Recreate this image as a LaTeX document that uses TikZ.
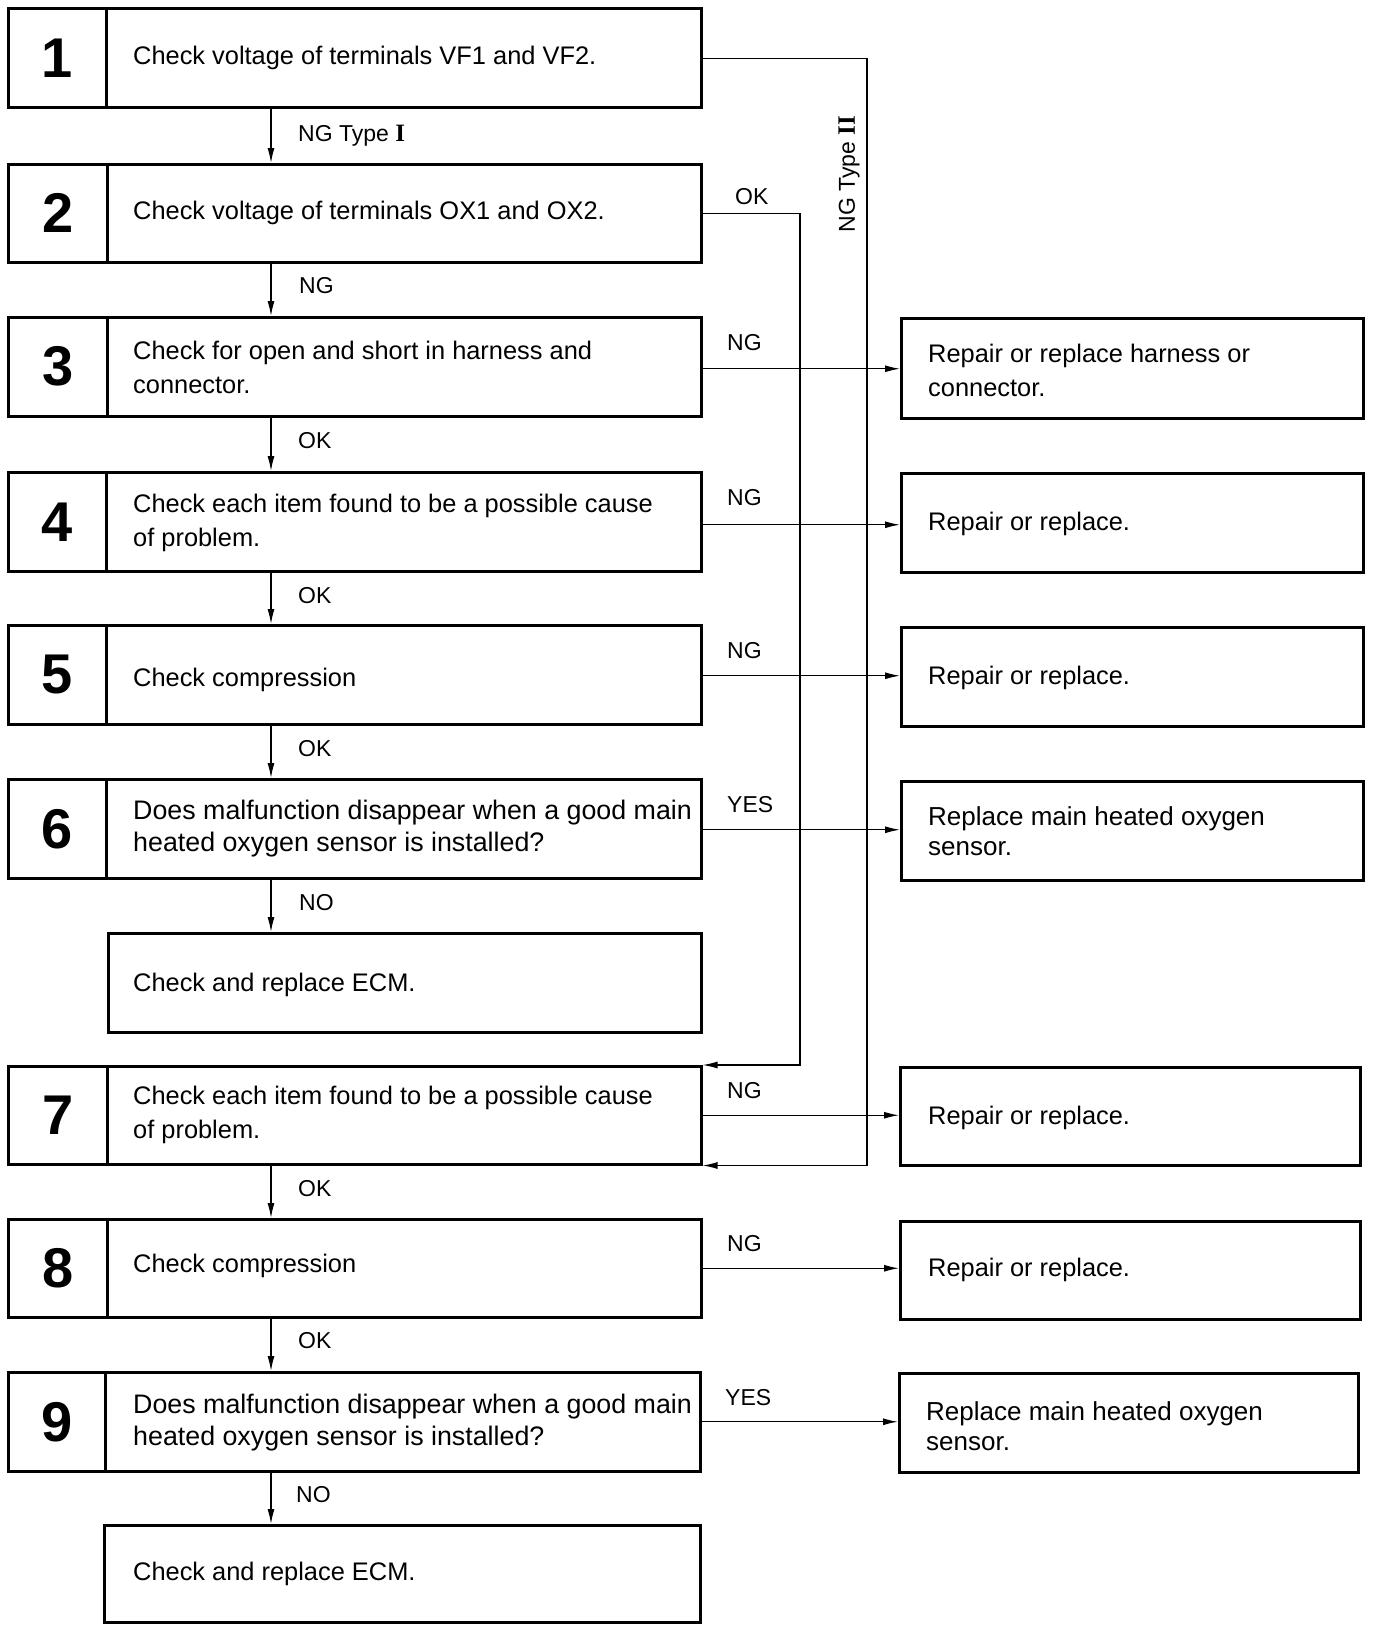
\documentclass[tikz,border=0pt]{standalone}
\usepackage{fontspec}
\setmainfont{Liberation Sans}
\newfontfamily\romanfam{Liberation Serif}
\usetikzlibrary{arrows.meta}
\begin{document}
\begin{tikzpicture}[x=1pt,y=-1pt,
  frame/.style={draw, line width=2.5pt, inner sep=0pt, anchor=north west},
  numcell/.style={frame, font=\fontsize{56}{56}\selectfont\bfseries},
  body/.style={anchor=west, align=left, inner sep=0pt, font=\fontsize{25.4}{34}\selectfont},
  bigbody/.style={body, font=\fontsize{26.8}{32}\selectfont},
  rbody/.style={body, font=\fontsize{26}{30}\selectfont},
  lbl/.style={anchor=base west, inner sep=0pt, font=\fontsize{23}{23}\selectfont},
  conn/.style={line width=1.3pt},
  arr/.style={conn, -{Latex[length=15pt,width=7pt]}},
]
\useasboundingbox[fill=white] (0,0) rectangle (1376,1628);

% ---------- left column ----------
\node[numcell, minimum width=98, minimum height=99] (n1) at (7,7) {1};
\node[frame, minimum width=595, minimum height=99] (b1) at (105,7) {};
\node[body] (t1) at ([xshift=28pt]b1.west) {Check voltage of terminals VF1 and VF2.};

\node[numcell, minimum width=99, minimum height=98] (n2) at (7,163) {2};
\node[frame, minimum width=594, minimum height=98] (b2) at (106,163) {};
\node[body] (t2) at ([xshift=27pt]b2.west) {Check voltage of terminals OX1 and OX2.};

\node[numcell, minimum width=99, minimum height=99] (n3) at (7,316) {3};
\node[frame, minimum width=594, minimum height=99] (b3) at (106,316) {};
\node[body] (t3) at ([xshift=27pt,yshift=-1pt]b3.west) {Check for open and short in harness and\\connector.};

\node[numcell, minimum width=98, minimum height=99] (n4) at (7,471) {4};
\node[frame, minimum width=595, minimum height=99] (b4) at (105,471) {};
\node[body] (t4) at ([xshift=28pt,yshift=-1pt]b4.west) {Check each item found to be a possible cause\\of problem.};

\node[numcell, minimum width=98, minimum height=99] (n5) at (7,624) {5};
\node[frame, minimum width=595, minimum height=99] (b5) at (105,624) {};
\node[body] (t5) at ([xshift=28pt,yshift=-5pt]b5.west) {Check compression};

\node[numcell, minimum width=98, minimum height=99] (n6) at (7,778) {6};
\node[frame, minimum width=595, minimum height=99] (b6) at (105,778) {};
\node[bigbody] (t6) at ([xshift=28pt]b6.west) {Does malfunction disappear when a good main\\heated oxygen sensor is installed?};

\node[frame, minimum width=593, minimum height=99] (e1) at (107,932) {};
\node[body] (te1) at ([xshift=26pt,yshift=-2pt]e1.west) {Check and replace ECM.};

\node[numcell, minimum width=99, minimum height=98] (n7) at (7,1065) {7};
\node[frame, minimum width=594, minimum height=98] (b7) at (106,1065) {};
\node[body] (t7) at ([xshift=27pt]b7.west) {Check each item found to be a possible cause\\of problem.};

\node[numcell, minimum width=99, minimum height=98] (n8) at (7,1218) {8};
\node[frame, minimum width=594, minimum height=98] (b8) at (106,1218) {};
\node[body] (t8) at ([xshift=27pt,yshift=2pt]b8.west) {Check compression};

\node[numcell, minimum width=97, minimum height=99] (n9) at (7,1371) {9};
\node[frame, minimum width=595, minimum height=99] (b9) at (104,1371) {};
\node[bigbody] (t9) at ([xshift=29pt,yshift=-1pt]b9.west) {Does malfunction disappear when a good main\\heated oxygen sensor is installed?};

\node[frame, minimum width=596, minimum height=97] (e2) at (103,1524) {};
\node[body] (te2) at ([xshift=30pt]e2.west) {Check and replace ECM.};

% ---------- right column ----------
\node[frame, minimum width=462, minimum height=100] (r3) at (900,317) {};
\node[body] (tr3) at ([xshift=28pt,yshift=-2pt]r3.west) {Repair or replace harness or\\connector.};
\node[frame, minimum width=462, minimum height=99] (r4) at (900,472) {};
\node[body] (tr4) at ([xshift=28pt,yshift=-1pt]r4.west) {Repair or replace.};
\node[frame, minimum width=462, minimum height=99] (r5) at (900,626) {};
\node[body] (tr5) at ([xshift=28pt,yshift=-1pt]r5.west) {Repair or replace.};
\node[frame, minimum width=462, minimum height=99] (r6) at (900,780) {};
\node[rbody] (tr6) at ([xshift=28pt]r6.west) {Replace main heated oxygen\\sensor.};
\node[frame, minimum width=460, minimum height=98] (r7) at (899,1066) {};
\node[body] (tr7) at ([xshift=29pt,yshift=-2pt]r7.west) {Repair or replace.};
\node[frame, minimum width=460, minimum height=98] (r8) at (899,1220) {};
\node[body] (tr8) at ([xshift=29pt]r8.west) {Repair or replace.};
\node[frame, minimum width=459, minimum height=99] (r9) at (898,1372) {};
\node[rbody] (tr9) at ([xshift=28pt,yshift=-3pt]r9.west) {Replace main heated oxygen\\sensor.};

% ---------- vertical arrows ----------
\coordinate (vx) at (271,0);
\draw[arr] (b1.south -| vx) -- (b2.north -| vx);
\draw[arr] (b2.south -| vx) -- (b3.north -| vx);
\draw[arr] (b3.south -| vx) -- (b4.north -| vx);
\draw[arr] (b4.south -| vx) -- (b5.north -| vx);
\draw[arr] (b5.south -| vx) -- (b6.north -| vx);
\draw[arr] (b6.south -| vx) -- (e1.north -| vx);
\draw[arr] (b7.south -| vx) -- (b8.north -| vx);
\draw[arr] (b8.south -| vx) -- (b9.north -| vx);
\draw[arr] (b9.south -| vx) -- (e2.north -| vx);

% ---------- horizontal arrows ----------
\draw[arr] ([yshift=-2pt]b3.east) -- ([yshift=-2pt]b3.east -| r3.west);
\draw[arr] ([yshift=-3pt]b4.east) -- ([yshift=-3pt]b4.east -| r4.west);
\draw[arr] ([yshift=-1pt]b5.east) -- ([yshift=-1pt]b5.east -| r5.west);
\draw[arr] ([yshift=-1pt]b6.east) -- ([yshift=-1pt]b6.east -| r6.west);
\draw[arr] (b7.east) -- (b7.east -| r7.west);
\draw[arr] (b8.east) -- (b8.east -| r8.west);
\draw[arr] (b9.east) -- (b9.east -| r9.west);

% ---------- long return lines ----------
\coordinate (okx) at (800,0);
\coordinate (t2x) at (867,0);
\draw[arr] (b2.east) -| (okx |- b7.north east) -- (b7.north east);
\draw[arr] ([yshift=-1pt]b1.east) -| (t2x |- b7.south east) -- (b7.south east);

% ---------- labels ----------
\node[lbl] (l12) at (298,141) {NG Type {\romanfam\bfseries\fontsize{25}{25}\selectfont I}};
\node[lbl] (l23) at (299,293) {NG};
\node[lbl] (l34) at (298,448) {OK};
\node[lbl] (l45) at (298,603) {OK};
\node[lbl] (l56) at (298,756) {OK};
\node[lbl] (l6e) at (299,910) {NO};
\node[lbl] (l78) at (298,1196) {OK};
\node[lbl] (l89) at (298,1348) {OK};
\node[lbl] (l9e) at (296,1502) {NO};

\node[lbl] (lok) at (735,204) {OK};
\node[lbl] (lr3) at (727,350) {NG};
\node[lbl] (lr4) at (727,505) {NG};
\node[lbl] (lr5) at (727,658) {NG};
\node[lbl] (lr6) at (727,812) {YES};
\node[lbl] (lr7) at (727,1098) {NG};
\node[lbl] (lr8) at (727,1251) {NG};
\node[lbl] (lr9) at (725,1405) {YES};

\node[rotate=90, inner sep=0pt, font=\fontsize{23}{23}\selectfont] (lt2) at (849,174) {NG Type {\romanfam\bfseries\fontsize{25}{25}\selectfont II}};
\end{tikzpicture}
\end{document}
